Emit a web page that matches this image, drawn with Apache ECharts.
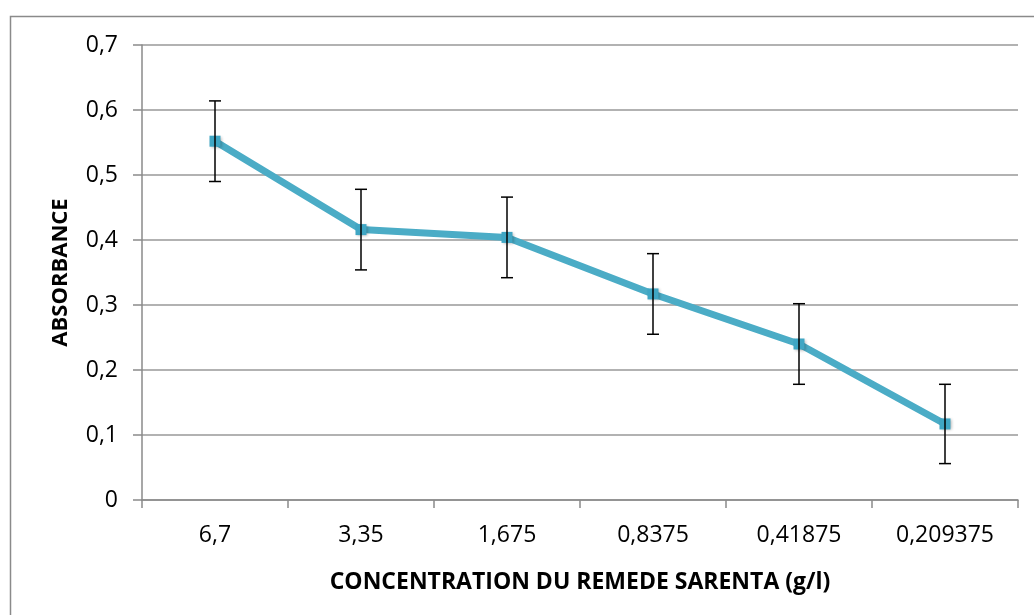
<!DOCTYPE html>
<html>
<head>
<meta charset="utf-8">
<script src="https://cdn.jsdelivr.net/npm/echarts@6/dist/echarts.min.js"></script>
<style>
  html, body { margin: 0; padding: 0; background: #fff; }
  #chart { width: 1034px; height: 615px; }
</style>
</head>
<body>
<div id="chart"></div>
<script>
// concentrations (g/l), shown as category labels
const concentrations = ['6,7', '3,35', '1,675', '0,8375', '0,41875', '0,209375'];
// mean absorbance per concentration
const absorbance = [0.552, 0.416, 0.404, 0.317, 0.240, 0.117];
// error bar half-width
const errors = [0.062, 0.062, 0.062, 0.062, 0.062, 0.061];

const FONT = '"Open Sans", "Liberation Sans", sans-serif';
const GRAY = '#8a8a8a';
const LINE = '#4BACC6';

const errData = absorbance.map((v, i) => [i, v - errors[i], v + errors[i]]);

const chart = echarts.init(document.getElementById('chart'));
chart.setOption({
  backgroundColor: '#fff',
  animation: false,
  graphic: [{
    // outer frame of the chart area
    type: 'rect',
    shape: { x: 10.5, y: 16.5, width: 1100, height: 700 },
    style: { fill: 'none', stroke: GRAY, lineWidth: 1.5 },
    silent: true
  }],
  grid: { left: 142, right: 16, top: 45, bottom: 115 },
  xAxis: {
    type: 'category',
    data: concentrations,
    boundaryGap: true,
    name: 'CONCENTRATION DU REMEDE SARENTA (g/l)',
    nameLocation: 'middle',
    nameGap: 71,
    nameTextStyle: { fontFamily: FONT, fontWeight: 'bold', fontSize: 23, color: '#000' },
    axisLine: { lineStyle: { color: GRAY, width: 1.5 } },
    axisTick: { show: true, length: 8, lineStyle: { color: GRAY, width: 1.5 } },
    axisLabel: { fontFamily: FONT, fontSize: 23, color: '#000', margin: 24 },
    splitLine: { show: false }
  },
  yAxis: {
    type: 'value',
    min: 0,
    max: 0.7,
    interval: 0.1,
    name: 'ABSORBANCE',
    nameLocation: 'middle',
    nameGap: 70,
    nameRotate: 90,
    nameTextStyle: { fontFamily: FONT, fontWeight: 'bold', fontSize: 22, color: '#000' },
    axisLine: { show: true, lineStyle: { color: GRAY, width: 1.5 } },
    axisTick: { show: true, length: 9, lineStyle: { color: GRAY, width: 1.5 } },
    axisLabel: {
      fontFamily: FONT, fontSize: 23, color: '#000', margin: 24,
      formatter: v => String(Math.round(v * 10) / 10).replace('.', ',')
    },
    splitLine: { lineStyle: { color: '#999', width: 1.5 } }
  },
  series: [
    {
      type: 'line',
      data: absorbance,
      symbol: 'rect',
      symbolSize: 11,
      z: 3,
      lineStyle: { color: LINE, width: 7 },
      itemStyle: { color: '#3fa6c4', shadowColor: 'rgba(0,0,0,0.3)', shadowBlur: 3, shadowOffsetX: 1, shadowOffsetY: 1 }
    },
    {
      type: 'custom',
      data: errData,
      z: 4,
      renderItem: function (params, api) {
        const x = api.value(0);
        const lo = api.coord([x, api.value(1)]);
        const hi = api.coord([x, api.value(2)]);
        const hw = 6;
        const style = { stroke: '#000', lineWidth: 1.5 };
        return {
          type: 'group',
          children: [
            { type: 'line', shape: { x1: hi[0], y1: hi[1], x2: lo[0], y2: lo[1] }, style: style },
            { type: 'line', shape: { x1: hi[0] - hw, y1: hi[1], x2: hi[0] + hw, y2: hi[1] }, style: style },
            { type: 'line', shape: { x1: lo[0] - hw, y1: lo[1], x2: lo[0] + hw, y2: lo[1] }, style: style }
          ]
        };
      }
    }
  ]
});
</script>
</body>
</html>
